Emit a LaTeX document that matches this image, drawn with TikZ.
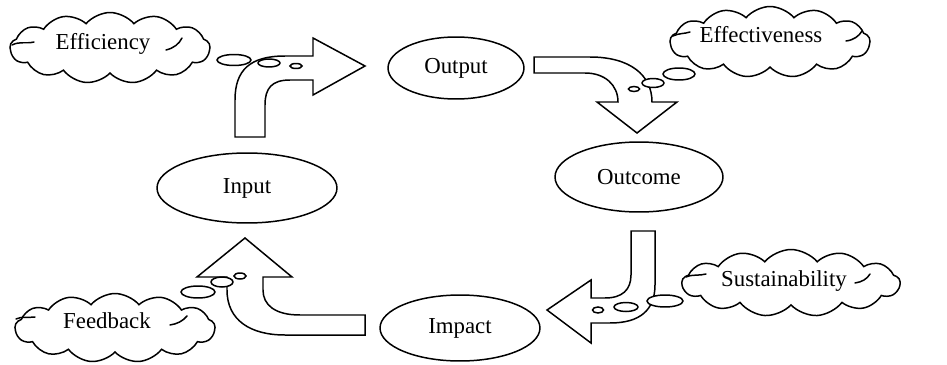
\documentclass[tikz,border=0pt]{standalone}
\usepackage{fontspec}
\setmainfont{Liberation Serif}
\usetikzlibrary{shapes.geometric,shapes.symbols}
\begin{document}
\begin{tikzpicture}[x=0.02cm,y=-0.02cm,
  lw/.style={line width=0.85pt},
  txt/.style={font=\fontsize{13}{15}\selectfont,inner sep=0pt},
  stage/.style={ellipse,draw,lw,inner sep=0pt,txt},
  thought/.style={cloud,draw,lw,fill=white,cloud puffs=13,cloud puff arc=100,cloud ignores aspect,inner sep=0pt},
  bubble/.style={ellipse,draw,lw,fill=white,inner sep=0pt},
  blockarrow/.style={draw,lw,fill=white,line join=miter},
  hook/.style={lw,line cap=round}]
\useasboundingbox (0,0) rectangle (947,365);

% stages
\node[stage,minimum width=2.72cm,minimum height=1.24cm] (output) at (456,68) {Output};
\node[stage,minimum width=3.36cm,minimum height=1.4cm] (outcome) at (639,177) {Outcome};
\node[stage,minimum width=3.2cm,minimum height=1.32cm] (impact) at (460,328) {Impact};
\node[stage,minimum width=3.6cm,minimum height=1.4cm] (input) at (247,188) {Input};

% block arrows
\draw[blockarrow] (235,137) -- (235,100) .. controls (235,70) and (250,56) .. (285,56)
  -- (313,56) -- (313,38) -- (365,66) -- (313,95) -- (313,80) -- (290,80)
  .. controls (272,80) and (265,88) .. (265,105) -- (265,137) -- cycle;
\draw[blockarrow] (534,57) -- (590,57) .. controls (630,57) and (652,75) .. (652,102)
  -- (677,102) -- (637,133) -- (597,102) -- (618,102)
  .. controls (618,85) and (605,73) .. (585,73) -- (534,73) -- cycle;
\draw[blockarrow] (631,231) -- (655,231) -- (655,285) .. controls (655,310) and (640,323) .. (610,323)
  -- (591,323) -- (591,343) -- (547,310) -- (591,280) -- (591,298) -- (605,298)
  .. controls (622,298) and (631,290) .. (631,275) -- cycle;
\draw[blockarrow] (365,315) -- (300,315) .. controls (275,315) and (263,305) .. (263,290)
  -- (263,277) -- (292,277) -- (245,238) -- (197,277) -- (227,277) -- (227,290)
  .. controls (227,320) and (250,335) .. (285,335) -- (365,335) -- cycle;

% clouds
\node[thought,minimum width=4.0cm,minimum height=1.42cm] (effcloud) at (110,48) {};
\node[thought,minimum width=4.0cm,minimum height=1.42cm] (effvcloud) at (770,42) {};
\node[thought,minimum width=4.36cm,minimum height=1.34cm] (sustcloud) at (791,283) {};
\node[thought,minimum width=4.0cm,minimum height=1.38cm] (feedcloud) at (115,328) {};

\node[txt] (eff) at (103,44) {Efficiency};
\node[txt] (effv) at (761,35) {Effectiveness};
\node[txt] (sust) at (784,281) {Sustainability};
\node[txt] (feed) at (107,321) {Feedback};

% hook strokes inside clouds
\draw[hook] (12,45) .. controls (20,41) and (26,44) .. (34,42);
\draw[hook] (166,50) .. controls (174,48) and (179,44) .. (182,38);
\draw[hook] (673,36) .. controls (679,33) and (684,34) .. (690,32);
\draw[hook] (846,41) .. controls (854,40) and (859,36) .. (862,31);
\draw[hook] (686,277) .. controls (693,274) and (699,276) .. (706,274);
\draw[hook] (855,283) .. controls (862,282) and (867,279) .. (870,274);
\draw[hook] (16,319) .. controls (22,316) and (28,318) .. (35,317);
\draw[hook] (170,325) .. controls (177,324) and (183,321) .. (187,316);

% thought bubbles
\node[bubble,minimum width=0.68cm,minimum height=0.22cm] (eb1) at (234,60) {};
\node[bubble,minimum width=0.44cm,minimum height=0.16cm] (eb2) at (269,63) {};
\node[bubble,minimum width=0.24cm,minimum height=0.10cm] (eb3) at (296,66) {};
\node[bubble,minimum width=0.64cm,minimum height=0.24cm] (vb1) at (679,74) {};
\node[bubble,minimum width=0.44cm,minimum height=0.18cm] (vb2) at (653,83) {};
\node[bubble,minimum width=0.22cm,minimum height=0.10cm] (vb3) at (634,89) {};
\node[bubble,minimum width=0.72cm,minimum height=0.24cm] (sb1) at (665,301) {};
\node[bubble,minimum width=0.48cm,minimum height=0.18cm] (sb2) at (626,307) {};
\node[bubble,minimum width=0.22cm,minimum height=0.12cm] (sb3) at (598,310) {};
\node[bubble,minimum width=0.68cm,minimum height=0.24cm] (fb1) at (198,292) {};
\node[bubble,minimum width=0.44cm,minimum height=0.20cm] (fb2) at (222,282) {};
\node[bubble,minimum width=0.24cm,minimum height=0.12cm] (fb3) at (240,276) {};
\end{tikzpicture}
\end{document}
